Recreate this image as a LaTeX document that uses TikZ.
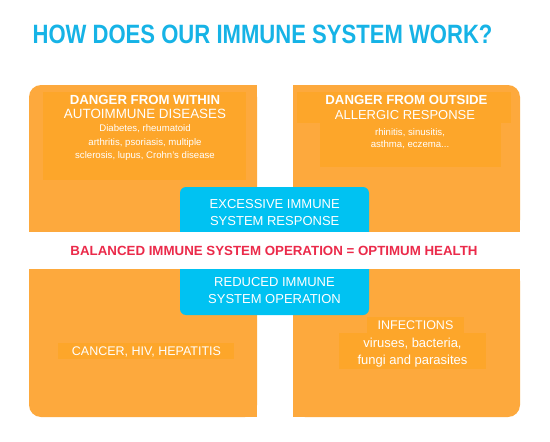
\documentclass[tikz,border=0pt]{standalone}
\usepackage{fontspec}
\setmainfont{Liberation Sans}
\usepackage{graphicx}
\definecolor{panelorange}{HTML}{FDA93D}
\definecolor{innerorange}{HTML}{FDA62A}
\definecolor{boxblue}{HTML}{00C2F2}
\definecolor{titleblue}{HTML}{16B3E6}
\definecolor{redtxt}{HTML}{EB2A4A}
\begin{document}
\begin{tikzpicture}[x=1pt,y=-1pt,
  panel/.style={fill=panelorange},
  innerbox/.style={fill=innerorange},
  wtxt/.style={text=white,inner sep=0pt,align=center}]
\useasboundingbox (0,0) rectangle (550,442);
\fill[white] (0,0) rectangle (550,442);
% top-left panel (rounded top-left corner)
\fill[panel,rounded corners=12pt] (29,85) rectangle (257,232);
\fill[panel] (120,85) rectangle (257,232);
\fill[panel] (29,140) rectangle (257,232);
% top-right panel (rounded top-right corner)
\fill[panel,rounded corners=12pt] (293,85) rectangle (520,232);
\fill[panel] (293,85) rectangle (420,232);
\fill[panel] (293,140) rectangle (520,232);
% bottom-left panel (rounded bottom-left corner)
\fill[panel,rounded corners=12pt] (29,269) rectangle (257,417);
\fill[panel] (120,269) rectangle (257,417);
\fill[panel] (29,269) rectangle (257,360);
% bottom-right panel (rounded bottom-right corner)
\fill[panel,rounded corners=12pt] (293,269) rectangle (520,417);
\fill[panel] (293,269) rectangle (420,417);
\fill[panel] (293,269) rectangle (520,360);
% inner text backgrounds
\fill[innerorange] (43,92) rectangle (246,180);
\fill[innerorange] (297,92) rectangle (511,123);
\fill[innerorange] (320,123) rectangle (501,167);
\fill[innerorange] (58,343) rectangle (234,359);
\fill[innerorange] (367,317) rectangle (464,333);
\fill[innerorange] (339,333) rectangle (486,369);
% blue box and white band
\fill[boxblue,rounded corners=6pt] (180,187) rectangle (369,315);
\fill[white] (0,232) rectangle (550,269);
% title
\node[inner sep=0pt,text=titleblue,font=\bfseries\fontsize{26.5}{30}\selectfont] (title) at (262.5,34.5) {\scalebox{0.833}[1]{HOW DOES OUR IMMUNE SYSTEM WORK?}};
% top-left texts
\node[wtxt,font=\bfseries\fontsize{13.2}{15}\selectfont] (tlhead) at (145,99.5) {DANGER FROM WITHIN};
\node[wtxt,font=\fontsize{13.4}{16}\selectfont] (tlsub) at (145,113.5) {AUTOIMMUNE DISEASES};
\node[wtxt,font=\fontsize{9.6}{13.5}\selectfont] (tlbody) at (145,143) {Diabetes, rheumatoid\\arthritis, psoriasis, multiple\\sclerosis, lupus, Crohn's disease};
% top-right texts
\node[wtxt,font=\bfseries\fontsize{13.2}{15}\selectfont] (trhead) at (406.5,100) {DANGER FROM OUTSIDE};
\node[wtxt,font=\fontsize{13}{16}\selectfont] (trsub) at (405,115) {ALLERGIC RESPONSE};
\node[wtxt,font=\fontsize{9.6}{12}\selectfont] (trbody) at (410,138.5) {rhinitis, sinusitis,\\asthma, eczema...};
% blue box texts
\node[wtxt,font=\fontsize{13}{16.7}\selectfont] (excess) at (274.7,212.5) {EXCESSIVE IMMUNE\\SYSTEM RESPONSE};
\node[wtxt,font=\fontsize{13}{17}\selectfont] (reduced) at (274.5,291) {REDUCED IMMUNE\\SYSTEM OPERATION};
% central statement
\node[inner sep=0pt,text=redtxt,font=\bfseries\fontsize{13.3}{15}\selectfont] (balanced) at (274,251) {BALANCED IMMUNE SYSTEM OPERATION = OPTIMUM HEALTH};
% bottom-left text
\node[wtxt,font=\fontsize{12.5}{15}\selectfont] (cancer) at (146.5,351.5) {CANCER, HIV, HEPATITIS};
% bottom-right texts
\node[wtxt,font=\fontsize{12.5}{15}\selectfont] (infect) at (415.5,325) {INFECTIONS};
\node[wtxt,font=\fontsize{13}{17.7}\selectfont] (infbody) at (412.5,352.5) {viruses, bacteria,\\fungi and parasites};
\end{tikzpicture}
\end{document}
